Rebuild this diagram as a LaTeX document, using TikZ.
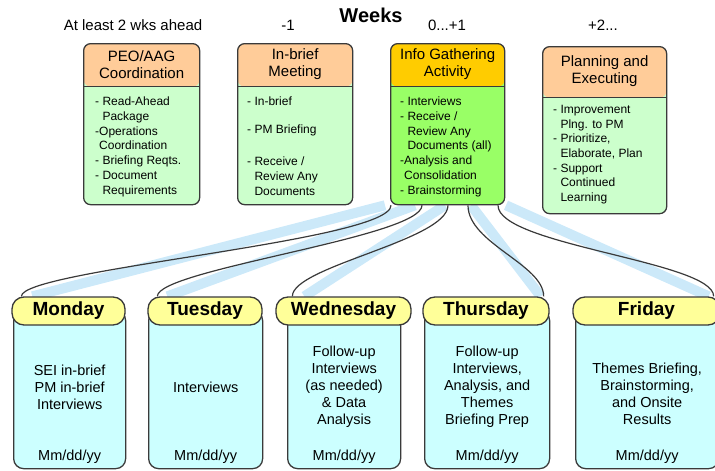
\documentclass[tikz,border=0pt]{standalone}
\usepackage{fontspec}
\setmainfont{Liberation Sans}
\usetikzlibrary{backgrounds}

\definecolor{linegray}{HTML}{3A3A3A}
\definecolor{peach}{HTML}{FFCC99}
\definecolor{mint}{HTML}{CCFFCC}
\definecolor{gold}{HTML}{FFCC00}
\definecolor{lime}{HTML}{99FF66}
\definecolor{lemon}{HTML}{FFFF99}
\definecolor{aqua}{HTML}{CCFFFF}
\definecolor{sky}{HTML}{CCE9F9}

\tikzset{
  topbox/.style={draw=linegray, line width=1.3pt, rounded corners=7pt, anchor=north west, inner sep=0pt, fill=mint},
  headed/.style 2 args={path picture={
      \fill[#1] (path picture bounding box.north west) rectangle ([yshift=-#2]path picture bounding box.north east);
      \draw[linegray, line width=1.3pt] ([yshift=-#2]path picture bounding box.north west) -- ([yshift=-#2]path picture bounding box.north east);}},
  boxtitle/.style={align=center, font=\fontsize{15}{17}\selectfont},
  tasks/.style={align=left, anchor=north west, inner sep=0pt, font=\fontsize{12}{14.7}\selectfont},
  weeklabel/.style={font=\fontsize{15}{17}\selectfont},
  daybox/.style={draw=linegray, line width=1.3pt, rounded corners=10pt, anchor=north west, fill=aqua, minimum height=158pt, inner sep=0pt},
  dayhead/.style={draw=linegray, line width=1.3pt, rounded corners=12pt, fill=lemon, minimum height=28pt, inner sep=0pt, font=\bfseries\fontsize{19}{22}\selectfont},
  daytext/.style={align=center, font=\fontsize{14.5}{17}\selectfont},
  link/.style={draw=linegray, line width=1.2pt},
  band/.style={draw=sky, line width=10pt},
}

\begin{document}
\begin{tikzpicture}[x=1pt, y=-1pt]
  \useasboundingbox (0,0) rectangle (715,471);

  % week headings
  \node[font=\bfseries\fontsize{20}{24}\selectfont] (weeks) at (371,15) {Weeks};
  \node[weeklabel] (wk-ahead) at (133,25) {At least 2 wks ahead};
  \node[weeklabel] (wk-minus) at (288,25) {-1};
  \node[weeklabel] (wk-now) at (447,25) {0...+1};
  \node[weeklabel] (wk-plus) at (603,25) {+2...};

  % activity boxes
  \node[topbox, headed={peach}{43pt}, minimum width=116pt, minimum height=161pt] (peo) at (83,43) {};
  \node[boxtitle] (peo-title) at ([yshift=-21.5pt]peo.north) {PEO/AAG\\Coordination};
  \node[tasks] (peo-tasks) at ([xshift=12pt,yshift=-54pt]peo.north west)
    {- Read-Ahead\\\phantom{- }Package\\-Operations\\\phantom{-}Coordination\\- Briefing Reqts.\\- Document\\\phantom{- }Requirements};

  \node[topbox, headed={peach}{43pt}, minimum width=115pt, minimum height=161pt] (inbrief) at (237,43) {};
  \node[boxtitle] (inbrief-title) at ([yshift=-21.5pt]inbrief.north) {In-brief\\Meeting};
  \node[tasks] (inbrief-tasks) at ([xshift=10pt,yshift=-54pt]inbrief.north west)
    {- In-brief\\[13.3pt]- PM Briefing\\[17.3pt]- Receive /\\\phantom{- }Review Any\\\phantom{- }Documents};

  \node[topbox, fill=lime, headed={gold}{43pt}, minimum width=114pt, minimum height=161pt] (info) at (390,43) {};
  \node[boxtitle] (info-title) at ([yshift=-21.5pt]info.north) {Info Gathering\\Activity};
  \node[tasks] (info-tasks) at ([xshift=10pt,yshift=-54pt]info.north west)
    {- Interviews\\- Receive /\\\phantom{- }Review Any\\\phantom{- }Documents (all)\\-Analysis and\\\phantom{-}Consolidation\\- Brainstorming};

  \node[topbox, headed={peach}{51pt}, minimum width=124pt, minimum height=167pt] (plan) at (542,46) {};
  \node[boxtitle] (plan-title) at ([yshift=-25.5pt]plan.north) {Planning and\\Executing};
  \node[tasks] (plan-tasks) at ([xshift=11pt,yshift=-59pt]plan.north west)
    {- Improvement\\\phantom{- }Plng. to PM\\- Prioritize,\\\phantom{- }Elaborate, Plan\\- Support\\\phantom{- }Continued\\\phantom{- }Learning};

  % days of the visit
  \node[daybox, minimum width=112pt] (mon) at (13,310) {};
  \node[dayhead, minimum width=113pt] (mon-head) at (68.5,311) {Monday};
  \node[daytext] (mon-text) at ([yshift=-77pt]mon.north) {SEI in-brief\\PM in-brief\\Interviews};
  \node[daytext] (mon-date) at ([yshift=13pt]mon.south) {Mm/dd/yy};

  \node[daybox, minimum width=114pt] (tue) at (148,310) {};
  \node[dayhead, minimum width=114pt] (tue-head) at (205,311) {Tuesday};
  \node[daytext] (tue-text) at ([yshift=-77pt]tue.north) {Interviews};
  \node[daytext] (tue-date) at ([yshift=13pt]tue.south) {Mm/dd/yy};

  \node[daybox, minimum width=113pt] (wed) at (287,310) {};
  \node[dayhead, minimum width=135pt] (wed-head) at (343.5,311) {Wednesday};
  \node[daytext] (wed-text) at ([yshift=-77pt]wed.north) {Follow-up\\Interviews\\(as needed)\\\& Data\\Analysis};
  \node[daytext] (wed-date) at ([yshift=13pt]wed.south) {Mm/dd/yy};

  \node[daybox, minimum width=125pt] (thu) at (424,310) {};
  \node[dayhead, minimum width=126pt] (thu-head) at (486,311) {Thursday};
  \node[daytext] (thu-text) at ([yshift=-77pt]thu.north) {Follow-up\\Interviews,\\Analysis, and\\Themes\\Briefing Prep};
  \node[daytext] (thu-date) at ([yshift=13pt]thu.south) {Mm/dd/yy};

  \node[daybox, minimum width=143pt] (fri) at (575,310) {};
  \node[dayhead, minimum width=147pt] (fri-head) at (646.5,311) {Friday};
  \node[daytext] (fri-text) at ([yshift=-83.5pt]fri.north) {Themes Briefing,\\Brainstorming,\\and Onsite\\Results};
  \node[daytext] (fri-date) at ([yshift=13pt]fri.south) {Mm/dd/yy};

  \begin{scope}[on background layer]
    % light blue wedges behind the links
    \draw[band] ([xshift=21pt]mon-head.north west) -- ([xshift=-5pt]info.south west);
    \draw[band] ([xshift=20pt]tue-head.north west) -- ([xshift=25pt]info.south west);
    \draw[band] ([xshift=29pt]wed-head.north west) -- ([xshift=55pt]info.south west);
    \draw[band] ([xshift=-9pt]thu-head.north east) -- ([xshift=81pt]info.south west);
    \draw[band] ([xshift=-12pt]fri-head.north east) -- ([xshift=116pt]info.south west);

    % links from the info gathering box to each day
    \draw[link] ([xshift=1pt]info.south west) .. controls +(0,36) and +(0,-27) .. ([xshift=10pt]mon-head.north west);
    \draw[link] ([xshift=32pt]info.south west) .. controls +(0,32) and +(0,-27) .. ([xshift=10pt]tue-head.north west);
    \draw[link] ([xshift=58pt]info.south west) .. controls +(0,35) and +(0,-30) .. ([xshift=17pt]wed-head.north west);
    \draw[link] ([xshift=78pt]info.south west) .. controls +(0,38) and +(0,-32) .. ([xshift=-6pt]thu-head.north east);
    \draw[link] ([xshift=108pt]info.south west) .. controls +(0,40) and +(0,-35) .. ([xshift=-7pt]fri-head.north east);
  \end{scope}

\end{tikzpicture}
\end{document}
